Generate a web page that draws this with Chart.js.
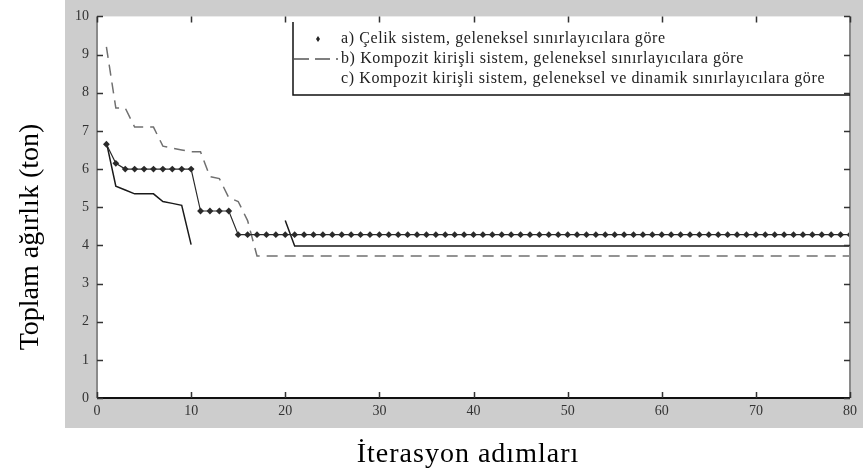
<!DOCTYPE html>
<html>
<head>
<meta charset="utf-8">
<script src="https://cdn.jsdelivr.net/npm/chart.js@4"></script>
<style>
  html, body { margin: 0; padding: 0; background: #fff; }
</style>
</head>
<body>
<canvas id="grafik" width="863" height="472"></canvas>
<script>
// iterasyon numaralari
var iterasyonlar = [
    1, 2, 3, 4, 5, 6, 7, 8, 9, 10, 11, 12, 13, 14, 15, 16, 17, 18, 19, 20,
    21, 22, 23, 24, 25, 26, 27, 28, 29, 30, 31, 32, 33, 34, 35, 36, 37, 38, 39, 40,
    41, 42, 43, 44, 45, 46, 47, 48, 49, 50, 51, 52, 53, 54, 55, 56, 57, 58, 59, 60,
    61, 62, 63, 64, 65, 66, 67, 68, 69, 70, 71, 72, 73, 74, 75, 76, 77, 78, 79, 80
];

// a) celik sistem
var celikAgirlik = [
    6.65, 6.15, 6.0, 6.0, 6.0, 6.0, 6.0, 6.0, 6.0, 6.0, 4.9, 4.9, 4.9, 4.9, 4.28, 4.28, 4.28, 4.28, 4.28, 4.28,
    4.28, 4.28, 4.28, 4.28, 4.28, 4.28, 4.28, 4.28, 4.28, 4.28, 4.28, 4.28, 4.28, 4.28, 4.28, 4.28, 4.28, 4.28, 4.28, 4.28,
    4.28, 4.28, 4.28, 4.28, 4.28, 4.28, 4.28, 4.28, 4.28, 4.28, 4.28, 4.28, 4.28, 4.28, 4.28, 4.28, 4.28, 4.28, 4.28, 4.28,
    4.28, 4.28, 4.28, 4.28, 4.28, 4.28, 4.28, 4.28, 4.28, 4.28, 4.28, 4.28, 4.28, 4.28, 4.28, 4.28, 4.28, 4.28, 4.28, 4.28
];

// b) kompozit, geleneksel
var kompozitGeleneksel = [
    9.2, 7.6, 7.6, 7.1, 7.1, 7.1, 6.6, 6.55, 6.5, 6.45, 6.45, 5.8, 5.75, 5.25, 5.15, 4.65, 3.72, 3.72, 3.72, 3.72,
    3.72, 3.72, 3.72, 3.72, 3.72, 3.72, 3.72, 3.72, 3.72, 3.72, 3.72, 3.72, 3.72, 3.72, 3.72, 3.72, 3.72, 3.72, 3.72, 3.72,
    3.72, 3.72, 3.72, 3.72, 3.72, 3.72, 3.72, 3.72, 3.72, 3.72, 3.72, 3.72, 3.72, 3.72, 3.72, 3.72, 3.72, 3.72, 3.72, 3.72,
    3.72, 3.72, 3.72, 3.72, 3.72, 3.72, 3.72, 3.72, 3.72, 3.72, 3.72, 3.72, 3.72, 3.72, 3.72, 3.72, 3.72, 3.72, 3.72, 3.72
];

// c) kompozit, geleneksel + dinamik (11-19 arasi goruntude yok)
var kompozitDinamik = [
    6.7, 5.55, 5.45, 5.35, 5.35, 5.35, 5.15, 5.1, 5.05, 4.02, null, null, null, null, null, null, null, null, null, 4.65,
    3.98, 3.98, 3.98, 3.98, 3.98, 3.98, 3.98, 3.98, 3.98, 3.98, 3.98, 3.98, 3.98, 3.98, 3.98, 3.98, 3.98, 3.98, 3.98, 3.98,
    3.98, 3.98, 3.98, 3.98, 3.98, 3.98, 3.98, 3.98, 3.98, 3.98, 3.98, 3.98, 3.98, 3.98, 3.98, 3.98, 3.98, 3.98, 3.98, 3.98,
    3.98, 3.98, 3.98, 3.98, 3.98, 3.98, 3.98, 3.98, 3.98, 3.98, 3.98, 3.98, 3.98, 3.98, 3.98, 3.98, 3.98, 3.98, 3.98, 3.98
];

var seriAdlari = [
    'a) Çelik sistem, geleneksel sınırlayıcılara göre',
    'b) Kompozit kirişli sistem, geleneksel sınırlayıcılara göre',
    'c) Kompozit kirişli sistem, geleneksel ve dinamik sınırlayıcılara göre'
];
var xBaslik = 'İterasyon adımları';
var yBaslik = 'Toplam ağırlık (ton)';

var serif = '"Liberation Serif", "DejaVu Serif", serif';

// gri cerceve, beyaz cizim alani, eksen cizgileri, ic tikler, basliklar, lejant
var matlabGorunum = {
    id: 'matlabGorunum',
    beforeDraw: function (chart) {
        var ctx = chart.ctx, a = chart.chartArea;
        ctx.save();
        ctx.fillStyle = '#ffffff';
        ctx.fillRect(0, 0, chart.width, chart.height);
        ctx.fillStyle = '#cdcdcd';
        ctx.fillRect(65, 0, chart.width - 65, 428);
        ctx.fillStyle = '#ffffff';
        ctx.fillRect(a.left, a.top, a.right - a.left, a.bottom - a.top);
        ctx.restore();
    },
    afterDraw: function (chart) {
        var ctx = chart.ctx, a = chart.chartArea;
        var xs = chart.scales.x, ys = chart.scales.y;
        ctx.save();

        // kenarlar
        ctx.strokeStyle = '#8a8a8a';
        ctx.lineWidth = 2;
        ctx.beginPath();
        ctx.moveTo(a.left, a.top); ctx.lineTo(a.left, a.bottom);
        ctx.moveTo(a.right, a.top); ctx.lineTo(a.right, a.bottom);
        ctx.stroke();
        ctx.strokeStyle = '#111';
        ctx.lineWidth = 2;
        ctx.beginPath();
        ctx.moveTo(a.left, a.bottom); ctx.lineTo(a.right, a.bottom);
        ctx.stroke();

        // ic tikler
        ctx.strokeStyle = '#333';
        ctx.lineWidth = 1.5;
        ctx.beginPath();
        ys.ticks.forEach(function (t) {
            var py = Math.round(ys.getPixelForValue(t.value)) + 0.5;
            ctx.moveTo(a.left, py); ctx.lineTo(a.left + 6, py);
            ctx.moveTo(a.right, py); ctx.lineTo(a.right - 6, py);
        });
        xs.ticks.forEach(function (t) {
            var px = Math.round(xs.getPixelForValue(t.value)) + 0.5;
            ctx.moveTo(px, a.bottom); ctx.lineTo(px, a.bottom - 6);
            ctx.moveTo(px, a.top); ctx.lineTo(px, a.top + 6);
        });
        ctx.stroke();

        // eksen basliklari
        ctx.fillStyle = '#000';
        ctx.font = '28px ' + serif;
        ctx.textAlign = 'center';
        ctx.textBaseline = 'middle';
        ctx.letterSpacing = '1px';
        ctx.fillText(xBaslik, 468, 455);
        ctx.letterSpacing = '0px';
        ctx.translate(31, 237);
        ctx.rotate(-Math.PI / 2);
        ctx.fillText(yBaslik, 0, 0);
        ctx.setTransform(1, 0, 0, 1, 0, 0);

        // lejant
        var lx = 293, ly = 22, lb = 95;
        ctx.strokeStyle = '#111';
        ctx.lineWidth = 1.5;
        ctx.beginPath();
        ctx.moveTo(lx, ly); ctx.lineTo(lx, lb); ctx.lineTo(a.right, lb);
        ctx.stroke();

        var satirlar = [39, 59, 79];
        ctx.font = '16px ' + serif;
        ctx.letterSpacing = '0.6px';
        ctx.textAlign = 'left';
        ctx.fillStyle = '#222';
        chart.data.datasets.forEach(function (ds, i) {
            ctx.fillText(ds.label, 341, satirlar[i]);
        });
        ctx.letterSpacing = '0px';
        // a) isaret
        ctx.fillStyle = '#222';
        ctx.beginPath();
        ctx.moveTo(318, satirlar[0] - 3); ctx.lineTo(320, satirlar[0]);
        ctx.lineTo(318, satirlar[0] + 3); ctx.lineTo(316, satirlar[0]);
        ctx.closePath(); ctx.fill();
        // b) kesikli cizgi
        ctx.strokeStyle = '#555';
        ctx.lineWidth = 1.5;
        ctx.setLineDash([15, 6]);
        ctx.beginPath();
        ctx.moveTo(294, satirlar[1]); ctx.lineTo(338, satirlar[1]);
        ctx.stroke();
        ctx.restore();
    }
};

var ctx = document.getElementById('grafik').getContext('2d');
new Chart(ctx, {
    type: 'line',
    data: {
        labels: iterasyonlar,
        datasets: [{
            label: seriAdlari[0],
            data: celikAgirlik,
            borderColor: '#2a2a2a',
            borderWidth: 1.2,
            backgroundColor: '#2a2a2a',
            pointStyle: 'rectRot',
            pointRadius: 3.4,
            pointBorderWidth: 0,
            tension: 0
        }, {
            label: seriAdlari[1],
            data: kompozitGeleneksel,
            borderColor: '#707070',
            borderWidth: 1.5,
            borderDash: [11, 7],
            pointRadius: 0,
            tension: 0
        }, {
            label: seriAdlari[2],
            data: kompozitDinamik,
            borderColor: '#1a1a1a',
            borderWidth: 1.5,
            pointRadius: 0,
            spanGaps: false,
            tension: 0
        }]
    },
    options: {
        responsive: false,
        animation: false,
        events: [],
        layout: {
            padding: { left: 0, right: 13, top: 14, bottom: 0 }
        },
        plugins: {
            legend: { display: false },
            tooltip: { enabled: false }
        },
        scales: {
            x: {
                type: 'linear',
                min: 0,
                max: 80,
                grid: { display: false, drawTicks: false },
                border: { display: false },
                ticks: {
                    stepSize: 10,
                    autoSkip: false,
                    maxRotation: 0,
                    padding: 5,
                    color: '#333',
                    font: { family: serif, size: 14 }
                },
                afterFit: function (s) { s.height = 74; }
            },
            y: {
                min: 0,
                max: 10,
                grid: { display: false, drawTicks: false },
                border: { display: false },
                ticks: {
                    stepSize: 1,
                    padding: 8,
                    color: '#333',
                    font: { family: serif, size: 14 }
                },
                afterFit: function (s) { s.width = 97; }
            }
        }
    },
    plugins: [matlabGorunum]
});
</script>
</body>
</html>
